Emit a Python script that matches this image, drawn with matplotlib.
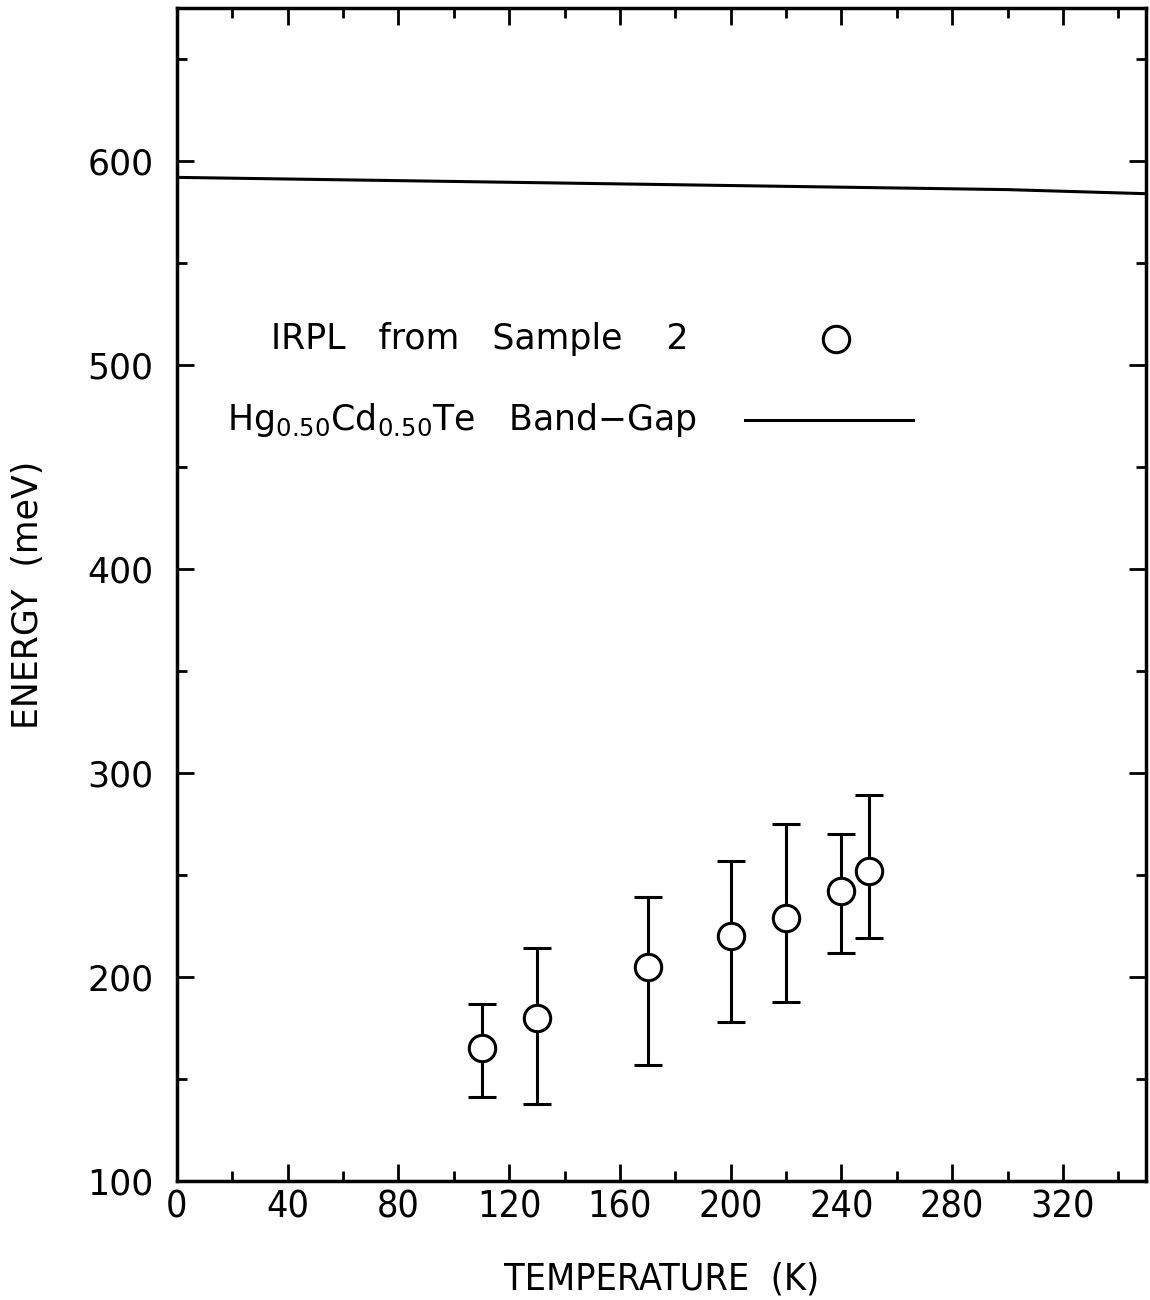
import matplotlib
matplotlib.use("Agg")
from matplotlib import pyplot as plt
import numpy as np

# IRPL peak energies, sample 2
temp = [110, 130, 170, 200, 220, 240, 250]
energy = [165, 180, 205, 220, 229, 242, 252]
err_hi = [187, 214, 239, 257, 275, 270, 289]
err_lo = [141, 138, 157, 178, 188, 212, 219]

# band gap curve
gap_t = [0, 100, 200, 300, 350]
gap_e = [592, 590, 588, 586, 584]

plt.rcParams['font.family'] = ['DejaVu Sans']

fig = plt.figure(figsize=(11.5, 13), dpi=100)
ax = fig.add_axes([0.1539, 0.0915, 0.8426, 0.9023])

energy = np.array(energy)
yerr = [energy - np.array(err_lo), np.array(err_hi) - energy]
ax.errorbar(temp, energy, yerr=yerr, fmt='o', color='black', mfc='white',
            mec='black', ms=19, mew=2.2, elinewidth=2.2, capsize=10, capthick=2.8)

ax.plot(gap_t, gap_e, color='black', lw=2.2)

ax.set_xlim(0, 350)
ax.set_ylim(100, 675)
ax.set_xticks(np.arange(0, 350, 40))
ax.set_xticks(np.arange(0, 351, 20), minor=True)
ax.set_yticks(np.arange(100, 601, 100))
ax.set_yticks(np.arange(100, 676, 50), minor=True)

ax.tick_params(which='both', direction='in', top=True, right=True, width=2.0)
ax.tick_params(which='major', length=12)
ax.tick_params(which='minor', length=7)
ax.tick_params(axis='y', labelsize=25, pad=17)
ax.tick_params(axis='x', labelsize=27, pad=6)
for lab in ax.get_xticklabels():
    lab.set_fontstretch('condensed')
for s in ax.spines.values():
    s.set_linewidth(2.5)

xl = ax.set_xlabel('TEMPERATURE  (K)', fontsize=27, labelpad=26)
xl.set_fontstretch('condensed')
ax.set_ylabel('ENERGY  (meV)', fontsize=25, labelpad=30)

# legend drawn in data coordinates
ax.text(34, 513, 'IRPL   from   Sample    2', fontsize=25, va='center', ha='left')
ax.plot([238], [513], 'o', mfc='white', mec='black', ms=19, mew=2.2)
ax.text(18, 473, r'Hg$_{0.50}$Cd$_{0.50}$Te   Band$-$Gap', fontsize=25,
        va='center', ha='left')
ax.plot([205, 266], [473, 473], color='black', lw=2.2)

fig.savefig('out.png', dpi=100)
